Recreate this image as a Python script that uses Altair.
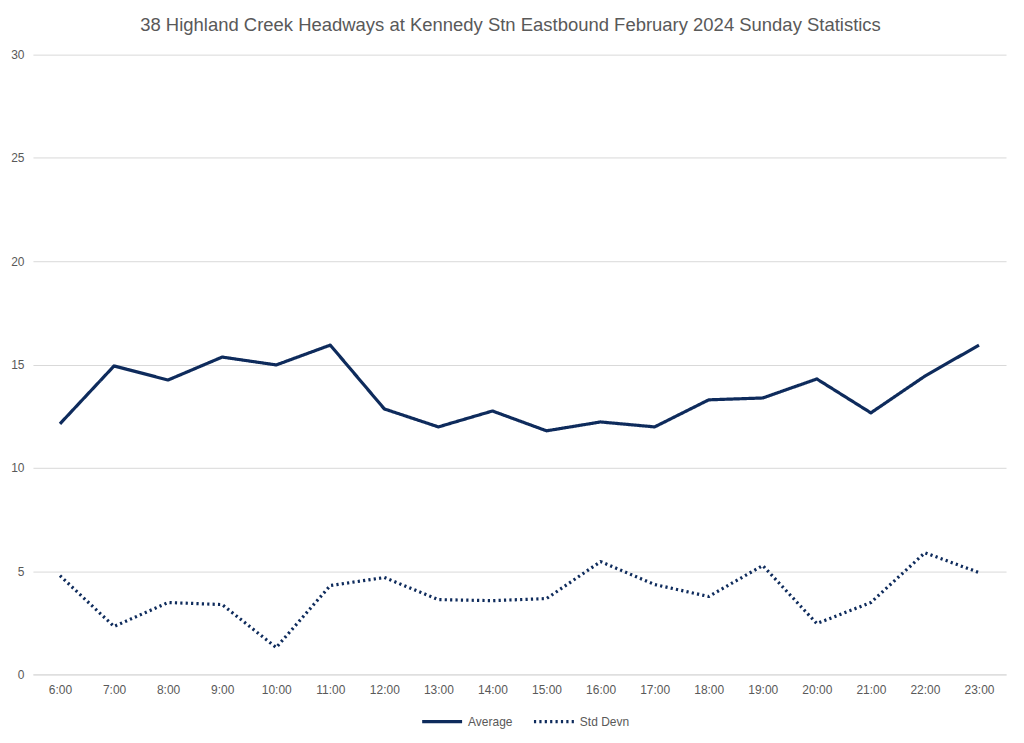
import altair as alt
import pandas as pd

hours = ["6:00", "7:00", "8:00", "9:00", "10:00", "11:00", "12:00", "13:00", "14:00",
         "15:00", "16:00", "17:00", "18:00", "19:00", "20:00", "21:00", "22:00", "23:00"]
average = [12.13, 14.93, 14.25, 15.36, 14.98, 15.94, 12.85, 11.98, 12.75,
           11.79, 12.22, 11.98, 13.29, 13.38, 14.30, 12.66, 14.44, 15.94]
std_devn = [4.78, 2.32, 3.48, 3.38, 1.30, 4.30, 4.69, 3.62, 3.57,
            3.67, 5.46, 4.35, 3.77, 5.27, 2.46, 3.48, 5.89, 4.93]
series_names = ["Average", "Std Devn"]

rows = []
for name, vals in zip(series_names, [average, std_devn]):
    for h, v in zip(hours, vals):
        rows.append({"hour": h, "value": v, "series": name})
df = pd.DataFrame(rows)

NAVY = "#0E2B5C"
FONT = "Liberation Sans"

chart = alt.Chart(df).mark_line(strokeWidth=3.2, strokeJoin="round", color=NAVY).encode(
    x=alt.X("hour:O", sort=hours, title=None,
            scale=alt.Scale(type="point", padding=0.5),
            axis=alt.Axis(labelAngle=0, ticks=False, domain=True, domainColor="#D9D9D9",
                          labelPadding=10, grid=False)),
    y=alt.Y("value:Q", title=None,
            scale=alt.Scale(domain=[0, 30], nice=False),
            axis=alt.Axis(values=[0, 5, 10, 15, 20, 25, 30], domain=False, ticks=False,
                          labelPadding=9, gridColor="#D9D9D9")),
    strokeDash=alt.StrokeDash("series:N", title=None,
                              scale=alt.Scale(domain=series_names, range=[[1, 0], [2.2, 3.2]]),
                              legend=alt.Legend(orient="none", legendX=388, legendY=646,
                                                direction="horizontal", symbolType="stroke",
                                                symbolStrokeColor=NAVY, symbolStrokeWidth=3.2,
                                                symbolSize=1600, labelFontSize=12,
                                                labelColor="#595959", labelFont=FONT,
                                                columnPadding=14)),
).properties(
    width=975, height=621,
    autosize=alt.AutoSizeParams(type="none"),
    padding={"left": 25, "top": 46, "right": 10, "bottom": 60},
    title=alt.Title("38 Highland Creek Headways at Kennedy Stn Eastbound February 2024 Sunday Statistics",
                    fontSize=18.5, font=FONT, fontWeight="normal", color="#595959", offset=14, dx=-9),
).configure_view(stroke=None).configure_axis(
    labelFont=FONT, labelFontSize=12, labelColor="#595959"
)

chart.save("out.html", embed_options={"renderer": "svg", "actions": False})
